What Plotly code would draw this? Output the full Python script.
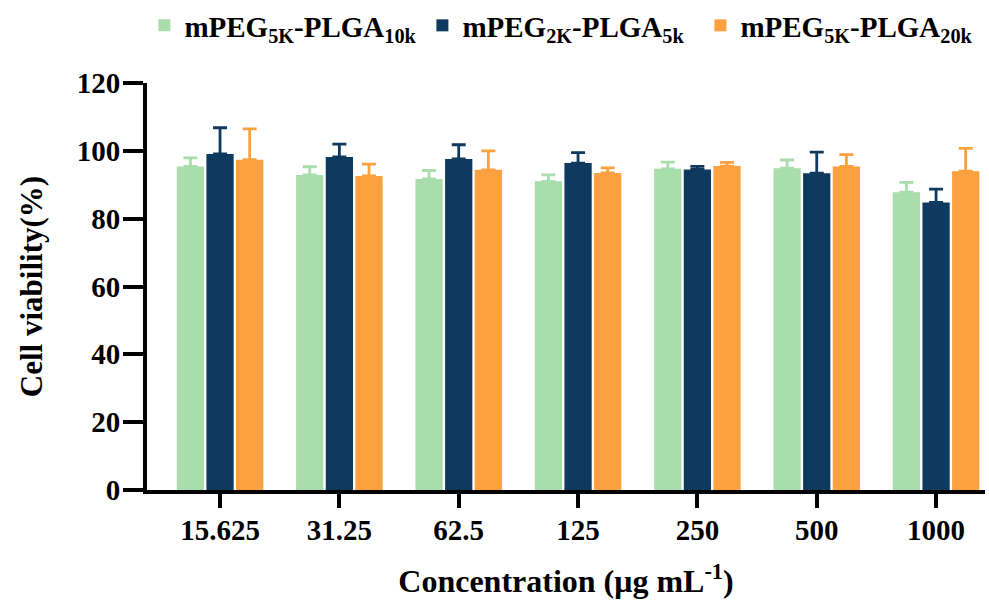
import plotly.graph_objects as go

# Concentrations tested (µg/mL)
concentrations = ["15.625", "31.25", "62.5", "125", "250", "500", "1000"]

# Mean cell viability (%) and standard deviation for each formulation
peg5k_plga10k = [95.4, 92.9, 91.7, 91.0, 94.7, 94.9, 87.8]
peg5k_plga10k_sd = [2.5, 2.4, 2.5, 1.9, 2.0, 2.4, 2.9]

peg2k_plga5k = [99.1, 98.2, 97.6, 96.4, 94.5, 93.4, 84.8]
peg2k_plga5k_sd = [7.7, 3.8, 4.2, 3.1, 0.9, 6.2, 3.9]

peg5k_plga20k = [97.4, 92.6, 94.4, 93.5, 95.5, 95.4, 94.0]
peg5k_plga20k_sd = [9.1, 3.5, 5.6, 1.5, 1.1, 3.5, 6.7]

series = [
    ("mPEG<sub>5K</sub>-PLGA<sub>10k</sub>", peg5k_plga10k, peg5k_plga10k_sd, "#a9ddab"),
    ("mPEG<sub>2K</sub>-PLGA<sub>5k</sub>", peg2k_plga5k, peg2k_plga5k_sd, "#0e3a5f"),
    ("mPEG<sub>5K</sub>-PLGA<sub>20k</sub>", peg5k_plga20k, peg5k_plga20k_sd, "#fca13f"),
]

FONT = "Liberation Serif"

fig = go.Figure()
for name, vals, sd, color in series:
    fig.add_trace(go.Bar(
        name=name,
        x=concentrations,
        y=vals,
        marker=dict(color=color, line=dict(width=0)),
        error_y=dict(
            type="data", array=sd, arrayminus=[0] * len(sd), symmetric=False,
            color=color, thickness=2.8, width=7,
        ),
    ))

fig.update_layout(
    width=989, height=605,
    margin=dict(l=147, r=4, t=83, b=115, autoexpand=False),
    paper_bgcolor="white", plot_bgcolor="white",
    barmode="group", bargap=0.255, bargroupgap=0.08,
    font=dict(family=FONT, color="black"),
    legend=dict(
        orientation="h", x=0.146, xanchor="left", y=1.0, yanchor="top",
        xref="container", yref="container",
        font=dict(family=FONT, size=29, color="black", weight="bold"),
        itemsizing="constant", tracegroupgap=0,
        entrywidth=233, entrywidthmode="pixels",
        bgcolor="rgba(0,0,0,0)",
    ),
    xaxis=dict(
        range=[-0.612, 6.41],
        showline=True, linecolor="black", linewidth=4,
        ticks="outside", ticklen=14, tickwidth=4, tickcolor="black",
        tickfont=dict(family=FONT, size=29, color="black", weight="bold"),
        ticklabelstandoff=-3,
        title=dict(
            text="Concentration (μg mL<sup>-1</sup>)",
            font=dict(family=FONT, size=32, color="black", weight="bold"),
            standoff=26,
        ),
        showgrid=False, zeroline=False,
    ),
    yaxis=dict(
        range=[0, 120], tickvals=[0, 20, 40, 60, 80, 100, 120],
        showline=True, linecolor="black", linewidth=4,
        ticks="outside", ticklen=20, tickwidth=4, tickcolor="black",
        tickfont=dict(family=FONT, size=29, color="black", weight="bold"),
        ticklabelstandoff=-3,
        title=dict(
            text="Cell viability(%)",
            font=dict(family=FONT, size=31, color="black", weight="bold"),
            standoff=26,
        ),
        showgrid=False, zeroline=False,
    ),
)

fig.write_html("out.html")
